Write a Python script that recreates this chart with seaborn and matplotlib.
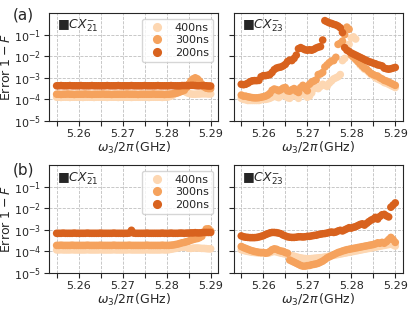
import numpy as np
import pandas as pd
import matplotlib
matplotlib.use('Agg')
import matplotlib.pyplot as plt
import seaborn as sns

# drive frequency omega_3/2pi (GHz)
freq = [5.2550, 5.2555, 5.2560, 5.2565, 5.2570, 5.2575, 5.2580, 5.2585, 5.2590, 5.2595,
        5.2600, 5.2605, 5.2610, 5.2615, 5.2620, 5.2625, 5.2630, 5.2635, 5.2640, 5.2645,
        5.2650, 5.2655, 5.2660, 5.2665, 5.2670, 5.2675, 5.2680, 5.2685, 5.2690, 5.2695,
        5.2700, 5.2705, 5.2710, 5.2715, 5.2720, 5.2725, 5.2730, 5.2735, 5.2740, 5.2745,
        5.2750, 5.2755, 5.2760, 5.2765, 5.2770, 5.2775, 5.2780, 5.2785, 5.2790, 5.2795,
        5.2800, 5.2805, 5.2810, 5.2815, 5.2820, 5.2825, 5.2830, 5.2835, 5.2840, 5.2845,
        5.2850, 5.2855, 5.2860, 5.2865, 5.2870, 5.2875, 5.2880, 5.2885, 5.2890, 5.2895,
        5.2900]

gate_times = ['400ns', '300ns', '200ns']
colors = ['#fdd7b2', '#f5a25d', '#d8621e']

# log10 of error 1-F
# (a) CX21
a21_400 = [-3.90, -3.90, -3.91, -3.90, -3.90, -3.90, -3.91, -3.90, -3.90, -3.90,
           -3.90, -3.90, -3.91, -3.90, -3.90, -3.90, -3.90, -3.91, -3.90, -3.90,
           -3.90, -3.90, -3.90, -3.91, -3.90, -3.90, -3.90, -3.90, -3.91, -3.90,
           -3.90, -3.90, -3.90, -3.90, -3.91, -3.90, -3.90, -3.90, -3.90, -3.90,
           -3.90, -3.90, -3.91, -3.90, -3.90, -3.90, -3.90, -3.90, -3.91, -3.90,
           -3.90, -3.88, -3.85, -3.80, -3.72, -3.65, -3.62, -3.60, -3.62, -3.68,
           -3.72, -3.75, -3.76, -3.76, -3.75, -3.75, -3.74, -3.74, -3.74, -3.75,
           -3.75]
a21_300 = [-3.76, -3.76, -3.77, -3.76, -3.76, -3.75, -3.76, -3.76, -3.77, -3.76,
           -3.76, -3.76, -3.76, -3.75, -3.76, -3.76, -3.77, -3.76, -3.76, -3.76,
           -3.76, -3.75, -3.76, -3.76, -3.76, -3.77, -3.76, -3.76, -3.76, -3.76,
           -3.76, -3.76, -3.75, -3.76, -3.76, -3.76, -3.76, -3.77, -3.76, -3.76,
           -3.76, -3.76, -3.76, -3.76, -3.75, -3.76, -3.76, -3.76, -3.76, -3.77,
           -3.76, -3.76, -3.75, -3.74, -3.72, -3.70, -3.66, -3.62, -3.58, -3.45,
           -3.30, -3.15, -3.05, -3.00, -3.05, -3.15, -3.30, -3.42, -3.48, -3.50,
           -3.50]
a21_200 = [-3.37, -3.37, -3.36, -3.37, -3.37, -3.37, -3.36, -3.37, -3.37, -3.37,
           -3.37, -3.36, -3.37, -3.37, -3.37, -3.37, -3.36, -3.37, -3.37, -3.37,
           -3.37, -3.37, -3.37, -3.36, -3.37, -3.37, -3.37, -3.37, -3.36, -3.37,
           -3.37, -3.37, -3.37, -3.37, -3.36, -3.37, -3.37, -3.37, -3.37, -3.37,
           -3.36, -3.37, -3.37, -3.37, -3.37, -3.37, -3.36, -3.37, -3.37, -3.37,
           -3.37, -3.37, -3.36, -3.37, -3.37, -3.37, -3.37, -3.36, -3.36, -3.36,
           -3.36, -3.35, -3.35, -3.36, -3.37, -3.37, -3.36, -3.36, -3.37, -3.38,
           -3.38]

# (a) CX23
a23_400 = [-3.95, -4.00, -4.02, -4.05, -4.05, -4.05, -4.05, -4.05, -4.05, -4.02,
           -4.00, -4.00, -3.98, -3.95, -3.90, -3.85, -3.88, -3.92, -3.85, -3.78,
           -3.80, -3.92, -3.95, -3.85, -3.75, -3.85, -3.95, -3.75, -3.65, -3.80,
           -3.90, -3.85, -3.70, -3.50, -3.45, -3.50, -3.40, -3.30, -3.35, -3.40,
           -3.25, -3.15, -3.05, -3.00, -2.95, -2.85, -2.20, -2.10, -1.60, -1.45,
           -1.15, -1.10, -1.20, -2.25, -2.40, -2.50, -2.60, -2.65, -2.75, -2.85,
           -2.90, -3.00, -3.05, -3.10, -3.15, -3.22, -3.25, -3.30, -3.35, -3.40,
           -3.45]
a23_300 = [-3.80, -3.85, -3.85, -3.88, -3.90, -3.92, -3.93, -3.93, -3.92, -3.90,
           -3.88, -3.85, -3.80, -3.72, -3.58, -3.52, -3.55, -3.60, -3.55, -3.48,
           -3.45, -3.60, -3.62, -3.55, -3.50, -3.62, -3.68, -3.45, -3.35, -3.50,
           -3.60, -3.30, -3.20, -3.15, -3.10, -2.85, -2.82, -2.75, -2.50, -2.40,
           -2.30, -2.22, -2.20, -2.05, -1.45, -1.40, -1.30, -1.00, -0.65, -0.75,
           -1.95, -2.05, -2.15, -2.25, -2.35, -2.45, -2.55, -2.60, -2.70, -2.80,
           -2.85, -2.90, -2.92, -3.00, -3.05, -3.12, -3.15, -3.20, -3.25, -3.30,
           -3.35]
a23_200 = [-3.30, -3.32, -3.30, -3.25, -3.18, -3.14, -3.13, -3.13, -3.12, -2.95,
           -2.90, -2.90, -2.88, -2.85, -2.75, -2.62, -2.55, -2.52, -2.50, -2.45,
           -2.38, -2.25, -2.18, -2.20, -2.10, -1.95, -1.65, -1.60, -1.65, -1.70,
           -1.72, -1.70, -1.72, -1.68, -1.62, -1.58, -1.55, -1.25, -0.35, -0.40,
           -0.45, -0.48, -0.52, -0.55, -0.60, -0.68, -0.90, -1.60, -1.72, -1.78,
           -1.85, -1.90, -1.95, -2.00, -2.05, -2.10, -2.15, -2.20, -2.25, -2.28,
           -2.32, -2.35, -2.40, -2.42, -2.45, -2.55, -2.58, -2.60, -2.58, -2.55,
           -2.52]

# (b) CX21
b21_400 = [-3.93, -3.93, -3.92, -3.93, -3.93, -3.93, -3.93, -3.92, -3.93, -3.93,
           -3.93, -3.93, -3.93, -3.93, -3.92, -3.93, -3.93, -3.93, -3.93, -3.93,
           -3.92, -3.93, -3.93, -3.93, -3.93, -3.93, -3.92, -3.93, -3.93, -3.93,
           -3.93, -3.93, -3.93, -3.92, -3.93, -3.93, -3.93, -3.93, -3.93, -3.93,
           -3.93, -3.92, -3.93, -3.93, -3.93, -3.93, -3.93, -3.93, -3.92, -3.93,
           -3.93, -3.92, -3.90, -3.88, -3.86, -3.84, -3.82, -3.80, -3.80, -3.82,
           -3.85, -3.86, -3.85, -3.84, -3.84, -3.85, -3.86, -3.86, -3.87, -3.88,
           -3.88]
b21_300 = [-3.72, -3.72, -3.71, -3.72, -3.72, -3.72, -3.72, -3.71, -3.72, -3.72,
           -3.72, -3.72, -3.72, -3.72, -3.71, -3.72, -3.72, -3.72, -3.72, -3.72,
           -3.71, -3.72, -3.72, -3.72, -3.72, -3.72, -3.71, -3.72, -3.72, -3.72,
           -3.72, -3.72, -3.72, -3.71, -3.72, -3.72, -3.72, -3.72, -3.72, -3.72,
           -3.72, -3.71, -3.72, -3.72, -3.72, -3.72, -3.72, -3.72, -3.71, -3.72,
           -3.72, -3.72, -3.71, -3.70, -3.68, -3.66, -3.63, -3.60, -3.58, -3.55,
           -3.52, -3.48, -3.45, -3.42, -3.40, -3.36, -3.30, -3.10, -2.96, -2.95,
           -3.05]
b21_200 = [-3.16, -3.16, -3.16, -3.15, -3.16, -3.16, -3.16, -3.16, -3.15, -3.16,
           -3.16, -3.16, -3.16, -3.16, -3.15, -3.16, -3.16, -3.16, -3.16, -3.16,
           -3.15, -3.16, -3.16, -3.16, -3.16, -3.16, -3.15, -3.16, -3.16, -3.16,
           -3.16, -3.16, -3.16, -3.15, -3.02, -3.15, -3.16, -3.16, -3.16, -3.16,
           -3.16, -3.15, -3.16, -3.16, -3.16, -3.16, -3.16, -3.16, -3.15, -3.16,
           -3.16, -3.16, -3.15, -3.16, -3.16, -3.16, -3.15, -3.15, -3.16, -3.15,
           -3.15, -3.14, -3.14, -3.13, -3.14, -3.14, -3.13, -3.12, -3.12, -3.12,
           -3.12]

# (b) CX23
b23_400 = [-3.92, -3.95, -3.98, -4.00, -4.02, -4.04, -4.05, -4.06, -4.07, -4.08,
           -4.08, -4.08, -4.08, -4.06, -4.02, -4.00, -4.02, -4.05, -4.08, -4.10,
           -4.12, -4.15, -4.18, -4.20, -4.22, -4.25, -4.28, -4.30, -4.32, -4.33,
           -4.34, -4.34, -4.33, -4.32, -4.31, -4.30, -4.29, -4.28, -4.26, -4.24,
           -4.22, -4.20, -4.18, -4.16, -4.14, -4.12, -4.10, -4.08, -4.06, -4.04,
           -4.02, -4.00, -3.98, -3.96, -3.94, -3.92, -3.90, -3.88, -3.86, -3.84,
           -3.82, -3.80, -3.78, -3.76, -3.74, -3.72, -3.70, -3.68, -3.66, -3.70,
           -3.75]
b23_300 = [-3.77, -3.82, -3.86, -3.90, -3.94, -3.97, -4.00, -4.02, -4.04, -4.05,
           -4.05, -4.08, -4.06, -4.00, -3.92, -3.88, -3.90, -3.95, -3.98, -4.00,
           -4.05, -4.08, -4.40, -4.45, -4.50, -4.55, -4.60, -4.65, -4.68, -4.68,
           -4.66, -4.65, -4.62, -4.60, -4.58, -4.55, -4.50, -4.45, -4.38, -4.30,
           -4.25, -4.20, -4.15, -4.10, -4.05, -4.02, -3.98, -3.95, -3.92, -3.90,
           -3.88, -3.86, -3.84, -3.82, -3.80, -3.78, -3.76, -3.74, -3.72, -3.70,
           -3.68, -3.65, -3.60, -3.62, -3.58, -3.62, -3.55, -3.45, -3.35, -3.45,
           -3.58]
b23_200 = [-3.28, -3.32, -3.34, -3.35, -3.36, -3.36, -3.36, -3.35, -3.33, -3.30,
           -3.27, -3.22, -3.18, -3.14, -3.12, -3.12, -3.13, -3.15, -3.18, -3.24,
           -3.28, -3.32, -3.34, -3.35, -3.35, -3.34, -3.32, -3.32, -3.33, -3.32,
           -3.30, -3.30, -3.28, -3.26, -3.25, -3.22, -3.20, -3.18, -3.17, -3.15,
           -3.12, -3.10, -3.12, -3.10, -3.05, -3.02, -3.05, -3.00, -2.95, -2.90,
           -2.92, -2.88, -2.85, -2.80, -2.75, -2.72, -2.78, -2.70, -2.62, -2.55,
           -2.50, -2.42, -2.50, -2.38, -2.30, -2.28, -2.35, -2.40, -1.95, -1.85,
           -1.75]

sns.set_style('ticks')
plt.rcParams['font.family'] = ['DejaVu Sans']

fig, axes = plt.subplots(2, 2, figsize=(4.15, 3.12), dpi=100, sharey=True)
fig.subplots_adjust(left=0.118, right=0.971, top=0.958, bottom=0.125,
                    wspace=0.09, hspace=0.41)

panels = [
    (axes[0, 0], [a21_400, a21_300, a21_200], '21', True),
    (axes[0, 1], [a23_400, a23_300, a23_200], '23', False),
    (axes[1, 0], [b21_400, b21_300, b21_200], '21', True),
    (axes[1, 1], [b23_400, b23_300, b23_200], '23', False),
]

for ax, series, gate, left in panels:
    df = pd.DataFrame({
        'freq': freq * 3,
        'err': 10.0 ** np.concatenate(series),
        'gate': np.repeat(gate_times, len(freq)),
    })
    sns.scatterplot(data=df, x='freq', y='err', hue='gate', hue_order=gate_times,
                    palette=colors, s=30, linewidth=0, ax=ax, legend=left)
    ax.set_yscale('log')
    ax.set_ylim(1e-5, 1)
    ax.set_yticks([1e-5, 1e-4, 1e-3, 1e-2, 1e-1])
    ax.set_xticks([5.26, 5.27, 5.28, 5.29])
    ax.set_xticks([5.255, 5.265, 5.275, 5.285], minor=True)
    ax.tick_params(axis='both', which='major', labelsize=8, length=3.5, width=0.8, pad=2)
    ax.tick_params(axis='x', which='minor', length=3.5, width=0.8)
    ax.tick_params(axis='y', which='minor', length=2, width=0.6)
    ax.grid(True, which='major', ls='--', lw=0.6, color='0.75')
    ax.xaxis.grid(True, which='minor', ls='--', lw=0.6, color='0.75')
    ax.set_axisbelow(True)
    ax.set_xlabel(r'$\omega_3/2\pi\,$(GHz)', fontsize=9, labelpad=1)
    ax.set_ylabel(r'Error $1-F$' if left else '', fontsize=9)
    ax.yaxis.set_label_coords(-0.215, 0.5)
    ax.text(0.05, 0.955, '■$CX_{%s}^{-}$' % gate, transform=ax.transAxes,
            va='top', ha='left', fontsize=9)
    if left:
        ax.legend(loc='upper right', fontsize=8, markerscale=1.2, labelspacing=0.25,
                  borderpad=0.35, handletextpad=0.6, title=None)

fig.text(0.031, 0.976, '(a)', fontsize=11, va='top', ha='left')
fig.text(0.031, 0.478, '(b)', fontsize=11, va='top', ha='left')

fig.savefig('out.png', dpi=100)
